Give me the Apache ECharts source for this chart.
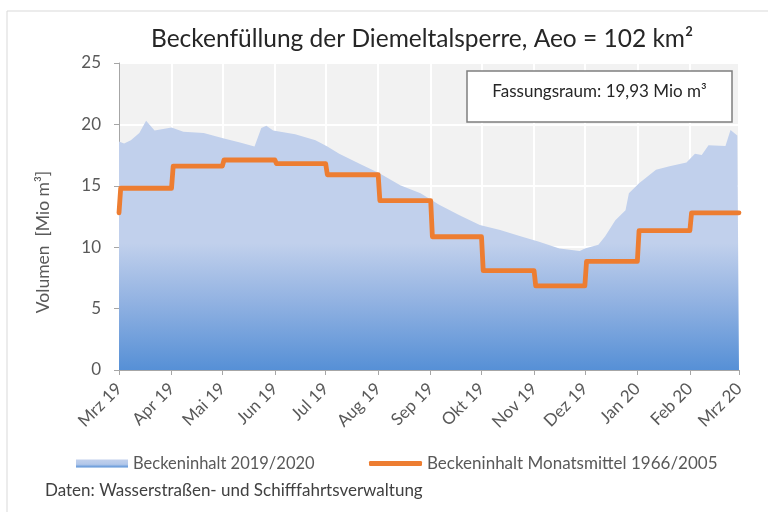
<!DOCTYPE html>
<html>
<head>
<meta charset="utf-8">
<script src="https://cdn.jsdelivr.net/npm/echarts@6/dist/echarts.min.js"></script>
<style>
	html, body { margin: 0; padding: 0; background: #fff; }
	#chart { width: 768px; height: 512px; }
</style>
</head>
<body>
<div id="chart"></div>
<script>
// Beckeninhalt 2019/2020 (Mio m³)
const areaDates = [
	'2019-03-01', '2019-03-04', '2019-03-08', '2019-03-13', '2019-03-17', '2019-03-22',
	'2019-04-01', '2019-04-08', '2019-04-20', '2019-05-02', '2019-05-12', '2019-05-20',
	'2019-05-24', '2019-05-27', '2019-05-31', '2019-06-13', '2019-06-25', '2019-07-02',
	'2019-07-09', '2019-07-21', '2019-08-02', '2019-08-14', '2019-08-26', '2019-09-06',
	'2019-09-18', '2019-09-30', '2019-10-12', '2019-10-24', '2019-11-04', '2019-11-16',
	'2019-11-28', '2019-12-01', '2019-12-09', '2019-12-13', '2019-12-19', '2019-12-25',
	'2019-12-27', '2020-01-02', '2020-01-12', '2020-01-20', '2020-01-30', '2020-02-04',
	'2020-02-08', '2020-02-12', '2020-02-22', '2020-02-25', '2020-02-29', '2020-03-01'
];
const areaValues = [
	18.6, 18.45, 18.7, 19.3, 20.3, 19.5,
	19.75, 19.4, 19.3, 18.85, 18.5, 18.2,
	19.7, 19.9, 19.5, 19.2, 18.7, 18.2,
	17.6, 16.8, 16.0, 15.05, 14.4, 13.45,
	12.6, 11.8, 11.4, 10.9, 10.45, 9.9,
	9.7, 9.9, 10.2, 10.9, 12.2, 13.0,
	14.4, 15.2, 16.3, 16.6, 16.9, 17.6,
	17.5, 18.3, 18.25, 19.55, 19.1, 19.0
];

// Beckeninhalt Monatsmittel 1966/2005, Mrz .. Feb
const meanStart = 12.8;
const meanValues = [14.8, 16.6, 17.1, 16.8, 15.9, 13.8, 10.85, 8.1, 6.85, 8.85, 11.35, 12.8];

const monthLabels = [
	'Mrz 19', 'Apr 19', 'Mai 19', 'Jun 19', 'Jul 19', 'Aug 19', 'Sep 19',
	'Okt 19', 'Nov 19', 'Dez 19', 'Jan 20', 'Feb 20', 'Mrz 20'
];

const toTime = ( s ) => {
	const [ y, m, d ] = s.split( '-' ).map( Number );
	return new Date( y, m - 1, d ).getTime();
};
const monthStart = ( i ) => new Date( 2019, 2 + i, 1 ).getTime();
const DAY = 86400000;

const areaData = areaDates.map( ( d, i ) => [ toTime( d ), areaValues[ i ] ] );

// monthly means drawn as steps, jumping within a day at each month start
const meanData = [ [ monthStart( 0 ), meanStart ] ];
meanValues.forEach( ( v, i ) => {
	meanData.push( [ monthStart( i ) + DAY, v ] );
	meanData.push( [ monthStart( i + 1 ), v ] );
} );

const labelFor = ( value ) => {
	const d = new Date( value );
	const idx = ( d.getFullYear() - 2019 ) * 12 + d.getMonth() - 2;
	return monthLabels[ idx ] || '';
};

const font = 'Lato, "Noto Sans", sans-serif';

const areaGradient = new echarts.graphic.LinearGradient( 0, 243, 0, 370, [
	{ offset: 0, color: '#C1D0EC' },
	{ offset: 0.45, color: '#93B3E2' },
	{ offset: 1, color: '#5690D6' }
], true );

const legendGradient = new echarts.graphic.LinearGradient( 0, 0, 0, 1, [
	{ offset: 0, color: '#C1D0EC' },
	{ offset: 0.6, color: '#B3C8EA' },
	{ offset: 1, color: '#5690D6' }
] );

const chart = echarts.init( document.getElementById( 'chart' ), null, { renderer: 'canvas' } );

chart.setOption( {
	animation: false,
	textStyle: { fontFamily: font },
	title: {
		text: 'Beckenfüllung der Diemeltalsperre, Aeo = 102 km²',
		left: 146,
		top: 22,
		textStyle: { fontFamily: font, fontSize: 24.5, fontWeight: 'normal', color: '#262626' }
	},
	grid: {
		left: 119,
		right: 29,
		top: 63,
		bottom: 142,
		show: true,
		backgroundColor: '#F2F2F2',
		borderWidth: 0,
		containLabel: false
	},
	legend: [ {
		left: 76,
		top: 455,
		padding: 0,
		icon: 'rect',
		itemWidth: 52,
		itemHeight: 8,
		textStyle: { fontFamily: font, fontSize: 16.5, color: '#595959' },
		data: [ { name: 'Beckeninhalt 2019/2020', itemStyle: { color: legendGradient } } ]
	}, {
		left: 369,
		top: 455,
		padding: 0,
		icon: 'roundRect',
		itemWidth: 53,
		itemHeight: 5,
		textStyle: { fontFamily: font, fontSize: 17, color: '#595959' },
		data: [ { name: 'Beckeninhalt Monatsmittel 1966/2005', itemStyle: { color: '#ED7D31' } } ]
	} ],
	xAxis: {
		type: 'time',
		min: monthStart( 0 ),
		max: monthStart( 12 ),
		splitNumber: 12,
		minInterval: 28 * DAY,
		maxInterval: 31 * DAY,
		axisLine: { show: true, lineStyle: { color: '#A6A6A6', width: 1 } },
		axisTick: { show: true, length: 5, lineStyle: { color: '#A6A6A6' } },
		axisLabel: {
			rotate: 45,
			margin: 16,
			fontFamily: font,
			fontSize: 17,
			fontWeight: 'normal',
			color: '#595959',
			showMinLabel: true,
			showMaxLabel: true,
			hideOverlap: false,
			formatter: labelFor
		},
		splitLine: { show: true, lineStyle: { color: '#FFFFFF', width: 2 } }
	},
	yAxis: {
		type: 'value',
		min: 0,
		max: 25,
		interval: 5,
		axisLine: { show: true, lineStyle: { color: '#A6A6A6', width: 1 } },
		axisTick: { show: true, length: 5, lineStyle: { color: '#A6A6A6' } },
		axisLabel: { margin: 18, fontFamily: font, fontSize: 17, color: '#595959' },
		splitLine: { show: true, lineStyle: { color: '#FFFFFF', width: 2 } }
	},
	graphic: [ {
		type: 'rect',
		shape: { x: 7, y: 11, width: 900, height: 700 },
		style: { fill: 'none', stroke: '#D9D9D9', lineWidth: 1 },
		silent: true,
		z: -10
	}, {
		type: 'text',
		x: 43,
		y: 242,
		rotation: Math.PI / 2,
		style: {
			text: 'Volumen  [Mio m³]',
			font: '17.5px ' + font,
			fill: '#595959',
			align: 'center',
			verticalAlign: 'middle'
		}
	}, {
		type: 'text',
		left: 45,
		top: 482,
		style: {
			text: 'Daten: Wasserstraßen- und Schifffahrtsverwaltung',
			font: '17px ' + font,
			fill: '#404040'
		}
	}, {
		type: 'rect',
		z: 100,
		shape: { x: 467, y: 71, width: 265, height: 51 },
		style: { fill: '#FFFFFF', stroke: '#7F7F7F', lineWidth: 1.5 }
	}, {
		type: 'text',
		z: 101,
		x: 599.5,
		y: 92,
		style: {
			text: 'Fassungsraum: 19,93 Mio m³',
			font: '17px ' + font,
			fill: '#262626',
			align: 'center',
			verticalAlign: 'middle'
		}
	} ],
	series: [ {
		name: 'Beckeninhalt 2019/2020',
		type: 'line',
		data: areaData,
		showSymbol: false,
		symbol: 'none',
		lineStyle: { width: 0, color: '#C1D0EC' },
		itemStyle: { color: '#C1D0EC' },
		areaStyle: { color: areaGradient, opacity: 1 },
		z: 2
	}, {
		name: 'Beckeninhalt Monatsmittel 1966/2005',
		type: 'line',
		data: meanData,
		showSymbol: false,
		symbol: 'none',
		lineStyle: { width: 4.8, color: '#ED7D31', cap: 'round', join: 'round' },
		itemStyle: { color: '#ED7D31' },
		z: 3
	} ]
} );
</script>
</body>
</html>
